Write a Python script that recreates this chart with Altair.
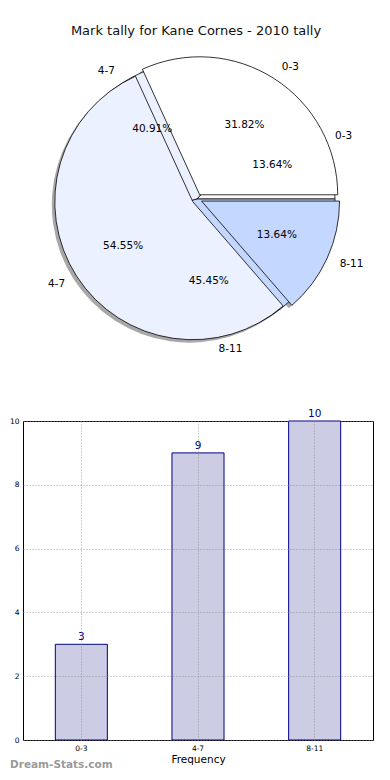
import altair as alt
import pandas as pd

# ---------------- data ----------------
categories = ["0-3", "4-7", "8-11"]
inner_tally = [3, 9, 10]      # 13.64%, 40.91%, 45.45%
outer_tally = [7, 12, 3]      # 31.82%, 54.55%, 13.64%
bar_tally = [3, 9, 10]
slice_colors = ["#FFFFFF", "#EBF1FF", "#C4D7FF"]
chart_title = "Mark tally for Kane Cornes - 2010 tally"
x_title = "Frequency"
watermark = "Dream-Stats.com"
y_ticks = [0, 2, 4, 6, 8, 10]

# ---------------- style constants ----------------
CX, CY, R = 174, 190, 138
EXPLODE_OUTER = 5
SHADOW = 3
FONT = "DejaVu Sans"

rows = []
for pie, vals, ex in (("a", inner_tally, 0), ("b", outer_tally, EXPLODE_OUTER)):
    for i, (c, v) in enumerate(zip(categories, vals)):
        rows.append({"pie": pie, "idx": i, "cat": c, "value": v, "ex": ex})
pie_df = pd.DataFrame(rows)

base = (
    alt.Chart(pie_df)
    .transform_joinaggregate(total="sum(value)", groupby=["pie"])
    .transform_window(cum="sum(value)", groupby=["pie"],
                      sort=[alt.SortField("idx")], frame=[None, 0])
    .transform_calculate(s0="(datum.cum - datum.value) / datum.total")
    .transform_calculate(s1="datum.cum / datum.total")
    .transform_calculate(mid="PI * (datum.s0 + datum.s1)")
    .transform_calculate(t1="2.5 * PI - 2 * PI * datum.s1")
    .transform_calculate(t2="2.5 * PI - 2 * PI * datum.s0")
    .transform_calculate(pct="format(100 * datum.value / datum.total, '.2f') + '%'")
    .transform_calculate(cx=f"{CX} + datum.ex * cos(datum.mid)")
    .transform_calculate(cy=f"{CY} - datum.ex * sin(datum.mid)")
    .transform_calculate(sx=f"datum.cx - {SHADOW}")
    .transform_calculate(sy=f"datum.cy + {SHADOW}")
    .transform_calculate(lx=f"datum.cx + {1.1 * R} * cos(datum.mid)")
    .transform_calculate(ly=f"datum.cy - {1.1 * R} * sin(datum.mid)")
    .transform_calculate(px=f"datum.cx + {0.6 * R} * cos(datum.mid)")
    .transform_calculate(py=f"datum.cy - {0.6 * R} * sin(datum.mid)")
)

theta_enc = dict(
    theta=alt.Theta("t1:Q", scale=None, stack=False),
    theta2=alt.Theta2("t2:Q"),
)
color_enc = alt.Color("cat:N", scale=alt.Scale(domain=categories, range=slice_colors), legend=None)

shadows = base.mark_arc(radius=R, fill="#A8A8A8").encode(
    x=alt.X("sx:Q", scale=None, axis=None),
    y=alt.Y("sy:Q", scale=None, axis=None),
    **theta_enc,
)

def wedges(pie):
    return base.transform_filter(f"datum.pie == '{pie}'").mark_arc(
        radius=R, stroke="black", strokeWidth=0.8
    ).encode(
        x=alt.X("cx:Q", scale=None, axis=None),
        y=alt.Y("cy:Q", scale=None, axis=None),
        color=color_enc,
        **theta_enc,
    )

def outer_labels(cond, align):
    return base.transform_filter(cond).mark_text(
        align=align, baseline="middle", fontSize=10.5, font=FONT, color="black"
    ).encode(
        x=alt.X("lx:Q", scale=None, axis=None),
        y=alt.Y("ly:Q", scale=None, axis=None),
        text="cat:N",
    )

pct_labels = base.mark_text(
    align="center", baseline="middle", fontSize=10.5, font=FONT, color="black"
).encode(
    x=alt.X("px:Q", scale=None, axis=None),
    y=alt.Y("py:Q", scale=None, axis=None),
    text="pct:N",
)

title = alt.Chart(pd.DataFrame({"t": [chart_title]})).mark_text(
    align="center", baseline="middle", fontSize=13, font=FONT, color="#111111"
).encode(x=alt.value(173), y=alt.value(22), text="t:N")

pie_chart = alt.layer(
    shadows, wedges("a"), wedges("b"),
    outer_labels("cos(datum.mid) > 0", "left"),
    outer_labels("cos(datum.mid) <= 0", "right"),
    pct_labels, title,
).properties(width=350, height=385, view=alt.ViewBackground(stroke="transparent"))

# ---------------- bar chart ----------------
bar_df = pd.DataFrame({"cat": categories, "value": bar_tally})

grid_style = dict(grid=True, gridDash=[1, 2], gridColor="#888888", gridWidth=0.8,
                  ticks=False, domain=False, labelFont=FONT, labelColor="black",
                  labelFontSize=7.5, labelPadding=4, zindex=1)

x_enc = alt.X(
    "cat:N", sort=categories,
    scale=alt.Scale(paddingInner=0.554, paddingOuter=0.277),
    axis=alt.Axis(title=x_title, labelAngle=0, bandPosition=0.5, titleFont=FONT,
                  titleFontSize=10.5, titleFontWeight="normal", titleColor="black",
                  titlePadding=3, **grid_style),
)
y_enc = alt.Y(
    "value:Q", scale=alt.Scale(domain=[0, 10], nice=False),
    axis=alt.Axis(values=y_ticks, title=None, **grid_style),
)

bars = alt.Chart(bar_df).mark_bar(fill="#CCCCE5", stroke="#000080", strokeWidth=1).encode(
    x=x_enc, y=y_enc
)
bar_labels = alt.Chart(bar_df).mark_text(
    baseline="alphabetic", dy=-4, fontSize=10.5, font=FONT, color="#000080"
).encode(x=alt.X("cat:N", sort=categories), y="value:Q", text="value:Q")

wm = alt.Chart(pd.DataFrame({"t": [watermark]})).mark_text(
    align="left", baseline="middle", fontSize=10.5, fontWeight="bold", font=FONT,
    color="#9A9A9A"
).encode(x=alt.value(-13), y=alt.value(344), text="t:N")

bar_chart = alt.layer(bars, bar_labels, wm).properties(
    width=350, height=319, view=alt.ViewBackground(stroke="black", strokeWidth=1)
)

chart = alt.vconcat(pie_chart, bar_chart, spacing=13).properties(padding=0).configure(font=FONT)

chart.save("out.html", embed_options={"renderer": "svg", "actions": False})
